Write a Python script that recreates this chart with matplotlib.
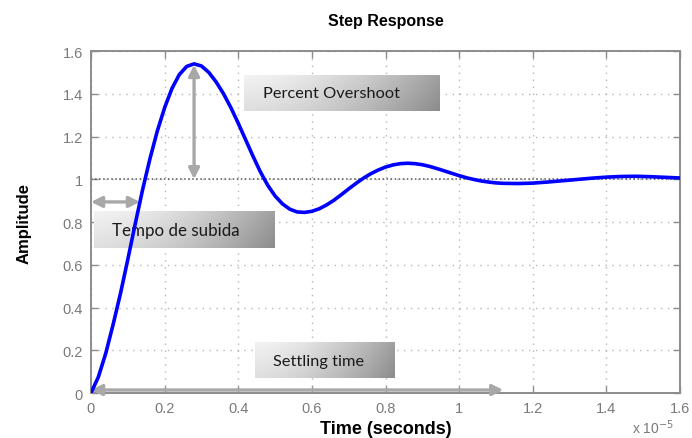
import numpy as np
import matplotlib.pyplot as plt

# step response (time in units of 1e-5 s)
t = [0.00, 0.02, 0.04, 0.06, 0.08, 0.10, 0.12, 0.14, 0.16, 0.18,
     0.20, 0.22, 0.24, 0.26, 0.28, 0.30, 0.32, 0.34, 0.36, 0.38,
     0.40, 0.42, 0.44, 0.46, 0.48, 0.50, 0.52, 0.54, 0.56, 0.58,
     0.60, 0.62, 0.64, 0.66, 0.68, 0.70, 0.72, 0.74, 0.76, 0.78,
     0.80, 0.82, 0.84, 0.86, 0.88, 0.90, 0.92, 0.94, 0.96, 0.98,
     1.00, 1.02, 1.04, 1.06, 1.08, 1.10, 1.12, 1.16, 1.20, 1.24,
     1.28, 1.32, 1.36, 1.40, 1.44, 1.48, 1.52, 1.56, 1.60]
amp = [0.000, 0.075, 0.185, 0.320, 0.465, 0.625, 0.790, 0.950, 1.095, 1.225,
       1.335, 1.425, 1.490, 1.528, 1.540, 1.530, 1.500, 1.455, 1.400, 1.335,
       1.262, 1.185, 1.108, 1.035, 0.972, 0.922, 0.885, 0.860, 0.847, 0.845,
       0.850, 0.862, 0.880, 0.902, 0.928, 0.955, 0.981, 1.005, 1.026, 1.043,
       1.057, 1.067, 1.073, 1.075, 1.073, 1.068, 1.060, 1.050, 1.039, 1.028,
       1.017, 1.007, 0.999, 0.992, 0.987, 0.983, 0.981, 0.980, 0.982, 0.987,
       0.993, 0.999, 1.005, 1.010, 1.013, 1.014, 1.012, 1.009, 1.006]

xticks = [0, 0.2, 0.4, 0.6, 0.8, 1, 1.2, 1.4, 1.6]
yticks = [0, 0.2, 0.4, 0.6, 0.8, 1, 1.2, 1.4, 1.6]
tick_lbls = ['0', '0.2', '0.4', '0.6', '0.8', '1', '1.2', '1.4', '1.6']

peak_t, peak_a = 0.28, 1.535
rise_t = 0.133
settle_t = 1.12

plt.rcParams['font.family'] = ['Liberation Sans', 'DejaVu Sans']
grey = '#8c8c8c'
arrow_col = '#a8a8a8'

fig = plt.figure(figsize=(6.92, 4.39), dpi=100)
ax = fig.add_axes([0.1315, 0.1025, 0.8512, 0.779])


def grad_box(x0, x1, y0, y1, label, tx, fs):
    g = np.linspace(0, 1, 64)
    gx, gy = np.meshgrid(g, g)
    val = 0.95 - 0.32 * gx ** 1.6 - 0.08 * gy
    ax.imshow(val, extent=[x0, x1, y0, y1], origin='upper', cmap='gray',
              vmin=0, vmax=1, aspect='auto', zorder=3, interpolation='bilinear')
    ax.text(tx, (y0 + y1) / 2, label, fontsize=fs, family=['Lato', 'DejaVu Sans'],
            va='center', ha='left', color='#1a1a1a', zorder=4)


grad_box(0.416, 0.946, 1.321, 1.489, 'Percent Overshoot', 0.467, 11.8)
grad_box(0.008, 0.497, 0.678, 0.847, 'Tempo de subida', 0.057, 12.2)
grad_box(0.446, 0.826, 0.070, 0.234, 'Settling time', 0.495, 11.8)

ax.axhline(1, color='#555555', linestyle=':', lw=1.1, zorder=2)

arw = dict(arrowstyle='<|-|>', color=arrow_col, lw=2.4, mutation_scale=16,
           shrinkA=0, shrinkB=0)
ax.annotate('', xy=(peak_t, peak_a), xytext=(peak_t, 1.0), arrowprops=arw, zorder=5)
ax.annotate('', xy=(rise_t, 0.894), xytext=(0.0, 0.894), arrowprops=arw, zorder=5)
ax.annotate('', xy=(settle_t, 0.014), xytext=(0.0, 0.014), arrowprops=arw, zorder=5)

ax.plot(t, amp, color='#0000ff', lw=2.6, zorder=6, solid_capstyle='round',
        solid_joinstyle='round')

ax.set_xlim(0, 1.6)
ax.set_ylim(0, 1.6)
ax.set_xticks(xticks)
ax.set_xticklabels(tick_lbls)
ax.set_yticks(yticks)
ax.set_yticklabels(tick_lbls)
ax.tick_params(direction='in', length=5, width=1, color=grey, labelcolor='#7a7a7a',
               labelsize=10.5, top=True, right=True, pad=6)
ax.grid(True, linestyle=(0, (1, 4)), color='#b5b5b5', lw=1)
for s in ax.spines.values():
    s.set_color(grey)
    s.set_linewidth(1.4)

ax.set_title('Step Response', fontsize=11.5, fontweight='bold', pad=19)
ax.set_xlabel('Time (seconds)', fontsize=13, fontweight='bold', labelpad=3)
ax.set_ylabel('Amplitude', fontsize=12, fontweight='bold', labelpad=22)
fig.text(0.913, 0.012, r'x 10$^{-5}$', fontsize=10, color='#7a7a7a')

fig.savefig('out.png', dpi=100)
